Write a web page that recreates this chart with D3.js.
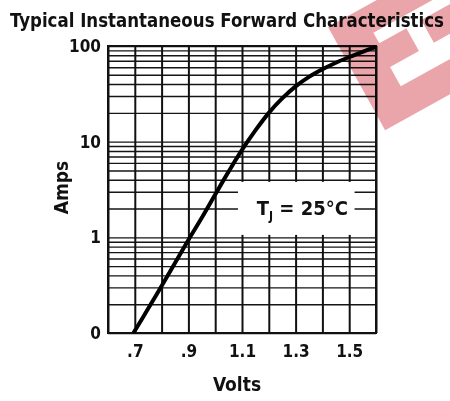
<!DOCTYPE html>
<html>
<head>
<meta charset="utf-8">
<script src="https://cdn.jsdelivr.net/npm/d3@7"></script>
<style>
  body { margin: 0; background: #fff; }
  svg { display: block; }
  text { font-family: "Liberation Sans Narrow", "DejaVu Sans Condensed", sans-serif; font-weight: bold; fill: #111; }
</style>
</head>
<body>
<div id="chart"></div>
<script>
// forward characteristic
var volts = [0.695, 0.75, 0.8, 0.85, 0.9, 0.95, 1.0, 1.05, 1.1, 1.15, 1.2, 1.25, 1.3, 1.35, 1.4, 1.45, 1.5, 1.55, 1.6];
var amps  = [0.1, 0.18, 0.31, 0.54, 0.94, 1.6, 2.8, 4.86, 8.2, 13.1, 20, 28.3, 37.8, 47.5, 57, 66.8, 76.7, 87, 98];

var xTicks = [0.7, 0.9, 1.1, 1.3, 1.5];
var xTickLabels = [".7", ".9", "1.1", "1.3", "1.5"];
var yTicks = [0.1, 1, 10, 100];
var yTickLabels = ["0", "1", "10", "100"];

var svgWidth = 450;
var svgHeight = 401;

var margin = { top: 46, right: 74, bottom: 68, left: 108 };
var width = svgWidth - margin.left - margin.right;
var height = svgHeight - margin.top - margin.bottom;

var svg = d3.select("#chart")
  .append("svg")
  .attr("width", svgWidth)
  .attr("height", svgHeight);

var chartGroup = svg.append("g")
  .attr("transform", `translate(${margin.left}, ${margin.top})`);

var xScale = d3.scaleLinear().domain([0.6, 1.6]).range([0, width]);
var yScale = d3.scaleLog().domain([0.1, 100]).range([height, 0]);

// horizontal grid (log paper)
chartGroup.append("g")
  .call(d3.axisLeft(yScale).tickSize(-width).tickFormat(""))
  .call(g => g.select(".domain").remove())
  .selectAll("line")
  .attr("stroke", "#151515")
  .attr("stroke-width", 1.4);

// vertical grid every 0.1 V
chartGroup.append("g")
  .attr("transform", `translate(0, ${height})`)
  .call(d3.axisBottom(xScale).tickValues(d3.range(0.6, 1.65, 0.1)).tickSize(-height).tickFormat(""))
  .call(g => g.select(".domain").remove())
  .selectAll("line")
  .attr("stroke", "#111")
  .attr("stroke-width", 2);

// frame
chartGroup.append("rect")
  .attr("width", width)
  .attr("height", height)
  .attr("fill", "none")
  .attr("stroke", "#111")
  .attr("stroke-width", 2);

// the curve
var line = d3.line()
  .x((d, i) => xScale(volts[i]))
  .y(d => yScale(d))
  .curve(d3.curveCatmullRom);

chartGroup.append("path")
  .datum(amps)
  .attr("fill", "none")
  .attr("stroke", "#000")
  .attr("stroke-width", 4)
  .attr("d", line);

// Tj box
chartGroup.append("rect")
  .attr("x", xScale(1.085))
  .attr("y", yScale(3.8))
  .attr("width", xScale(1.52) - xScale(1.085))
  .attr("height", yScale(1.06) - yScale(3.8))
  .attr("fill", "#fff");

var tj = chartGroup.append("text")
  .attr("x", xScale(1.155))
  .attr("y", yScale(1.71))
  .style("font-size", "20px");
tj.append("tspan").text("T");
tj.append("tspan").attr("dy", 5).style("font-size", "12px").text("J");
tj.append("tspan").attr("dy", -5).text(" = 25°C");

// tick labels
var xAxis = chartGroup.append("g")
  .attr("transform", `translate(0, ${height})`)
  .call(d3.axisBottom(xScale).tickValues(xTicks).tickSize(0).tickPadding(12)
    .tickFormat((d, i) => xTickLabels[i]));
xAxis.select(".domain").remove();
xAxis.selectAll("text").style("font-size", "17px").attr("dy", "0.71em");

var yAxis = chartGroup.append("g")
  .call(d3.axisLeft(yScale).tickValues(yTicks).tickSize(0).tickPadding(7)
    .tickFormat((d, i) => yTickLabels[i]));
yAxis.select(".domain").remove();
yAxis.selectAll("text").style("font-size", "17px");

// axis titles
svg.append("text")
  .attr("x", margin.left + width / 2 - 5)
  .attr("y", 391)
  .attr("text-anchor", "middle")
  .style("font-size", "19px")
  .text("Volts");

svg.append("text")
  .attr("transform", `translate(68, ${margin.top + height / 2 - 2}) rotate(-90)`)
  .attr("text-anchor", "middle")
  .style("font-size", "19px")
  .text("Amps");

svg.append("text")
  .attr("x", 10)
  .attr("y", 27)
  .attr("textLength", 434)
  .attr("lengthAdjust", "spacingAndGlyphs")
  .style("font-size", "20px")
  .text("Typical Instantaneous Forward Characteristics");

// pale red logo watermark in the corner
var A = [328, 27], u = [0.875, -0.484], v = [0.484, 0.875];
function pt(a, b) { return [A[0] + a * u[0] + b * v[0], A[1] + a * u[1] + b * v[1]]; }
function poly(ps) { return "M" + ps.map(p => pt(p[0], p[1]).join(",")).join("L") + "Z"; }
var logo = poly([[0, 0], [118, 0], [118, 118], [0, 118]]) +
  poly([[37, 27], [118, 27], [118, 39], [85, 39], [85, 65], [118, 65], [118, 87], [35, 87], [35, 65], [68, 65], [68, 39], [37, 39]]);
svg.append("path")
  .attr("d", logo)
  .attr("fill", "#e48f95")
  .attr("fill-rule", "evenodd")
  .style("mix-blend-mode", "multiply")
  .attr("opacity", 0.8);
</script>
</body>
</html>
